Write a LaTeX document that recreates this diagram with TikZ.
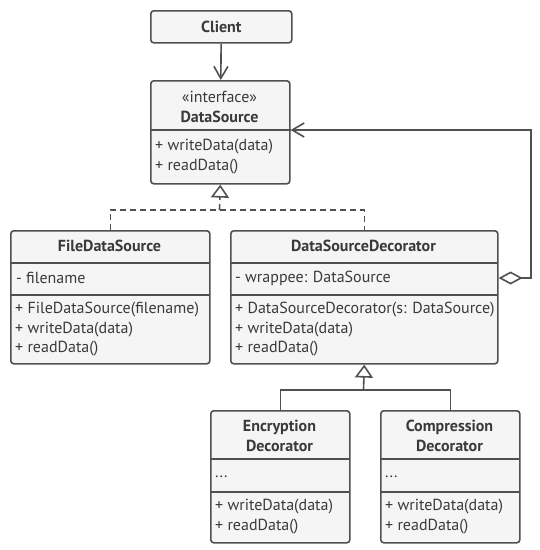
\documentclass[tikz,border=0pt]{standalone}
\usepackage{fontspec}
\setmainfont{PT Sans}
\usepackage{xcolor}
\usetikzlibrary{arrows.meta}
\definecolor{umlline}{HTML}{505050}
\definecolor{umlfill}{HTML}{F5F5F5}
\definecolor{umltext}{HTML}{3A3A3A}
\tikzset{
    umlbox/.style = {draw=umlline, fill=umlfill, line width=1.6pt, rounded corners=3pt, anchor=north west, inner sep=0pt},
    umltitle/.style = {font=\fontsize{16}{20}\selectfont\bfseries, text=umltext, align=center, inner sep=0pt},
    umlmember/.style = {font=\fontsize{16}{20}\selectfont, text=umltext, anchor=west, inner sep=0pt},
    umlsep/.style = {draw=umlline, line width=1.6pt},
    umllink/.style = {draw=umlline, line width=1.6pt},
    assoc/.style = {umllink, -{Straight Barb[length=12pt, width=14pt, line width=1.6pt]}},
    inherit/.style = {umllink, -{Triangle[open, length=13pt, width=18pt, fill=white, line width=1.6pt]}},
    umldash/.style = {dash pattern=on 6pt off 4pt}
}

\begin{document}
\begin{tikzpicture}[x=1pt, y=-1pt]
    \useasboundingbox (0,0) rectangle (540,550);
    % client
    \node [umlbox, minimum width=141pt, minimum height=32pt] (client) at (150,10) {};
    \node [umltitle] (clientname) at (client.center) {Client};
    % interface
    \node [umlbox, minimum width=139pt, minimum height=103pt] (ds) at (150,80) {};
    \coordinate (dssep) at (150,130);
    \draw [umlsep] (dssep) -- (ds.east |- dssep);
    \node [umltitle] (dsname) at (219.5,107) {\mdseries «interface»\\DataSource};
    \node [umlmember] (dswrite) at (155,147) {+ writeData(data)};
    \node [umlmember] (dsread) at (155,167) {+ readData()};
    % concrete component
    \node [umlbox, minimum width=199pt, minimum height=133pt] (fds) at (10,230) {};
    \draw [umlsep] (10,263) -- (209,263);
    \draw [umlsep] (10,295) -- (209,295);
    \node [umltitle] (fdsname) at (109.5,246) {FileDataSource};
    \node [umlmember] (fdsfile) at (16,278) {- filename};
    \node [umlmember] (fdsctor) at (15,310) {+ FileDataSource(filename)};
    \node [umlmember] (fdswrite) at (15,329.5) {+ writeData(data)};
    \node [umlmember] (fdsread) at (15,349) {+ readData()};
    % base decorator
    \node [umlbox, minimum width=267pt, minimum height=133pt] (dsd) at (230,230) {};
    \draw [umlsep] (230,263) -- (497,263);
    \draw [umlsep] (230,295) -- (497,295);
    \node [umltitle] (dsdname) at (363.5,246) {DataSourceDecorator};
    \node [umlmember] (dsdwrappee) at (235,278) {- wrappee: DataSource};
    \node [umlmember] (dsdctor) at (235,310) {+ DataSourceDecorator(s: DataSource)};
    \node [umlmember] (dsdwrite) at (235,329.5) {+ writeData(data)};
    \node [umlmember] (dsdread) at (235,349) {+ readData()};
    % concrete decorators
    \foreach \nm/\x/\txt in {enc/210/Encryption, comp/380/Compression}{
        \node [umlbox, minimum width=139pt, minimum height=132pt] (\nm) at (\x,410) {};
        \draw [umlsep] (\x,459) -- (\x+139,459);
        \draw [umlsep] (\x,492) -- (\x+139,492);
        \node [umltitle] (\nm name) at (\x+69.5,436) {\txt\\Decorator};
        \node [umlmember] (\nm dots) at (\x+5,477) {...};
        \node [umlmember] (\nm write) at (\x+5,507) {+ writeData(data)};
        \node [umlmember] (\nm read) at (\x+5,527) {+ readData()};
    }
    % connectors
    \draw [assoc] (client) -- (ds);
    \coordinate (dsjoin) at (219.5,210);
    \draw [umllink, umldash] (fds.north) |- (dsjoin) -| (dsd.north);
    \draw [inherit, umldash] (dsjoin) -- (ds.south);
    \coordinate (decjoin) at (363.5,390);
    \draw [umllink] (enc.north) |- (decjoin) -| (comp.north);
    \draw [inherit] (decjoin) -- (dsd.south);
    \draw [umllink, {Diamond[open, length=24pt, width=13pt, fill=white, line width=1.6pt]}-{Straight Barb[length=12pt, width=14pt, line width=1.6pt]}]
        (dsd.east |- dsdwrappee) -- (531,278) |- (ds.east |- dssep);
\end{tikzpicture}
\end{document}
